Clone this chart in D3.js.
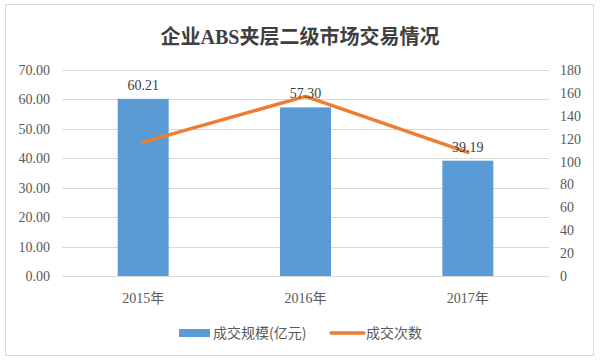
<!DOCTYPE html>
<html>
<head>
<meta charset="utf-8">
<script src="https://cdn.jsdelivr.net/npm/d3@7"></script>
<style>
  body { margin: 0; background: #fff; }
</style>
</head>
<body>
<div id="chart"></div>
<script>
const years = ["2015年", "2016年", "2017年"];
const scaleValues = [60.21, 57.30, 39.19];
const tradeCounts = [117, 157, 108];
const leftTicks = [0, 10, 20, 30, 40, 50, 60, 70];
const rightTicks = [0, 20, 40, 60, 80, 100, 120, 140, 160, 180];

const W = 600, H = 360;
const margin = {top: 70, right: 51, bottom: 84, left: 62},
    width = W - margin.left - margin.right,
    height = H - margin.top - margin.bottom;

const serif = "'Liberation Serif', 'Noto Sans CJK SC', serif";
const sans = "'Noto Sans CJK SC', 'Noto Sans', sans-serif";

const svg = d3.select("#chart")
    .append("svg")
    .attr("width", W)
    .attr("height", H);

// outer frame
svg.append("rect")
    .attr("x", 5.5).attr("y", 4.5)
    .attr("width", 588).attr("height", 351)
    .attr("fill", "#fff")
    .attr("stroke", "#d9d9d9");

svg.append("text")
    .attr("x", W / 2).attr("y", 44)
    .attr("text-anchor", "middle")
    .style("font-family", serif)
    .style("font-size", "20px")
    .style("font-weight", "bold")
    .style("fill", "#404040")
    .text("企业ABS夹层二级市场交易情况");

const g = svg.append("g")
    .attr("transform", "translate(" + margin.left + "," + margin.top + ")");

const xc = d3.scalePoint().domain(years).range([0, width]).padding(0.5);
const y = d3.scaleLinear().domain([0, 70]).range([height, 0]);
const y2 = d3.scaleLinear().domain([0, 180]).range([height, 0]);

// grid
g.selectAll(".grid")
    .data(leftTicks)
    .enter().append("line")
    .attr("x1", 0).attr("x2", width)
    .attr("y1", d => Math.round(y(d)) + 0.5)
    .attr("y2", d => Math.round(y(d)) + 0.5)
    .attr("stroke", "#d9d9d9")
    .attr("stroke-width", 1);

// left axis labels
g.selectAll(".ly")
    .data(leftTicks)
    .enter().append("text")
    .attr("x", -12)
    .attr("y", d => y(d) + 5)
    .attr("text-anchor", "end")
    .style("font-family", serif)
    .style("font-size", "14px")
    .style("fill", "#595959")
    .text(d => d.toFixed(2));

// right axis labels
g.selectAll(".ry")
    .data(rightTicks)
    .enter().append("text")
    .attr("x", width + 11)
    .attr("y", d => y2(d) + 5)
    .attr("text-anchor", "start")
    .style("font-family", serif)
    .style("font-size", "14px")
    .style("fill", "#595959")
    .text(d => d);

// bars
g.selectAll(".bar")
    .data(scaleValues)
    .enter().append("rect")
    .attr("x", (d, i) => xc(years[i]) - 25.5)
    .attr("width", 51)
    .attr("y", d => y(d))
    .attr("height", d => height - y(d))
    .attr("fill", "#5b9bd5");

// x labels
g.selectAll(".xl")
    .data(years)
    .enter().append("text")
    .attr("x", d => xc(d))
    .attr("y", height + 27)
    .attr("text-anchor", "middle")
    .style("font-family", serif)
    .style("font-size", "14px")
    .style("fill", "#595959")
    .text(d => d);

// line
const line = d3.line()
    .x((d, i) => xc(years[i]))
    .y(d => y2(d));

g.append("path")
    .datum(tradeCounts)
    .attr("d", line)
    .attr("fill", "none")
    .attr("stroke", "#ed7d31")
    .attr("stroke-width", 3.5)
    .attr("stroke-linejoin", "round")
    .attr("stroke-linecap", "round");

// bar value labels
g.selectAll(".vl")
    .data(scaleValues)
    .enter().append("text")
    .attr("x", (d, i) => xc(years[i]))
    .attr("y", d => y(d) - 9)
    .attr("text-anchor", "middle")
    .style("font-family", serif)
    .style("font-size", "14px")
    .style("fill", "#404040")
    .text(d => d.toFixed(2));

// legend
const lg = svg.append("g");
lg.append("rect")
    .attr("x", 179).attr("y", 329)
    .attr("width", 31).attr("height", 8)
    .attr("fill", "#5b9bd5");
lg.append("text")
    .attr("x", 213).attr("y", 338)
    .style("font-family", sans)
    .style("font-size", "14px")
    .style("fill", "#595959")
    .text("成交规模(亿元)");
lg.append("line")
    .attr("x1", 331).attr("x2", 364)
    .attr("y1", 333).attr("y2", 333)
    .attr("stroke", "#ed7d31")
    .attr("stroke-width", 3.5)
    .attr("stroke-linecap", "round");
lg.append("text")
    .attr("x", 366).attr("y", 338)
    .style("font-family", sans)
    .style("font-size", "14px")
    .style("fill", "#595959")
    .text("成交次数");
</script>
</body>
</html>
